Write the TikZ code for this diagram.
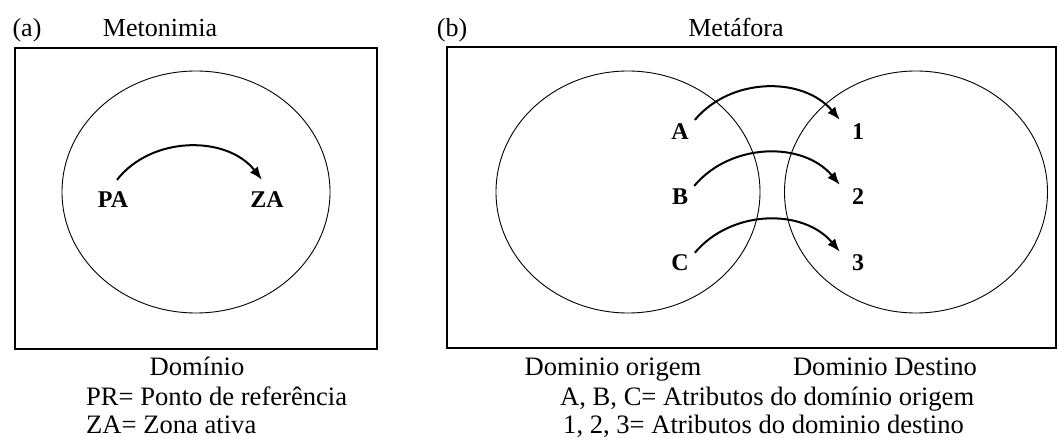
\documentclass[tikz,border=0pt]{standalone}
\usepackage{fontspec}
\setmainfont{Liberation Serif}
\usetikzlibrary{arrows.meta,shapes.geometric}
\begin{document}
\begin{tikzpicture}[x=1pt,y=-1pt,
  frame/.style={draw, line width=2pt},
  dom/.style={draw, line width=0.9pt},
  lbl/.style={font=\fontsize{24}{28}\selectfont\bfseries, inner sep=0pt},
  txt/.style={font=\fontsize{26}{30}\selectfont, inner sep=0pt, anchor=base},
  btxt/.style={font=\fontsize{26.6}{30}\selectfont, inner sep=0pt, anchor=base},
  txtw/.style={btxt, anchor=base west},
  arr/.style={line width=2pt, -{Latex[length=13pt,width=10pt]}},
]
\useasboundingbox (0,0) rectangle (1058,438);
% ---------- (a) Metonimia ----------
\node[txt] (ta) at (27,37) {(a)};
\node[txt] (tmeto) at (160,37) {Metonimia};
\node[frame, minimum width=362pt, minimum height=301pt, inner sep=0pt] (fa) at (196,198.5) {};
\node[dom, ellipse, minimum width=268pt, minimum height=242pt, inner sep=0pt] (ea) at (196,192) {};
\node[lbl] (PA) at (113,200) {PA};
\node[lbl] (ZA) at (267,200) {ZA};
\draw[arr] ([shift={(4,-12)}]PA.north) to[out=52,in=128] ([shift={(-5,-12)}]ZA.north);
\node[btxt] (dom) at (197,375) {Domínio};
\node[txtw] (pr) at (86,405) {PR= Ponto de referência};
\node[txtw] (za) at (86,433) {ZA= Zona ativa};
% ---------- (b) Metafora ----------
\node[txt] (tb) at (452,37) {(b)};
\node[txt] (tmeta) at (736,37) {Metáfora};
\node[frame, minimum width=609pt, minimum height=301pt, inner sep=0pt] (fb) at (751.5,197.5) {};
\node[dom, ellipse, minimum width=264pt, minimum height=242pt, inner sep=0pt] (eo) at (628,192) {};
\node[dom, ellipse, minimum width=263pt, minimum height=242pt, inner sep=0pt] (ed) at (916,192) {};
\node[lbl] (A) at (680,132) {A};
\node[lbl] (B) at (680,197) {B};
\node[lbl] (C) at (680,263) {C};
\node[lbl] (n1) at (858,132) {1};
\node[lbl] (n2) at (858,197) {2};
\node[lbl] (n3) at (858,263) {3};
\draw[arr] ([shift={(6,-4)}]A.north east) to[out=50,in=130] ([shift={(-12,-4)}]n1.north west);
\draw[arr] ([shift={(6,-3)}]B.north east) to[out=50,in=130] ([shift={(-12,-4)}]n2.north west);
\draw[arr] ([shift={(6,-2)}]C.north east) to[out=50,in=130] ([shift={(-12,-3)}]n3.north west);
\node[btxt] (dorig) at (613,375) {Dominio origem};
\node[btxt] (ddest) at (885,375) {Dominio Destino};
\node[txtw] (labc) at (560,405) {A, B, C= Atributos do domínio origem};
\node[txtw] (l123) at (563,433) {1, 2, 3= Atributos do dominio destino};
\end{tikzpicture}
\end{document}
